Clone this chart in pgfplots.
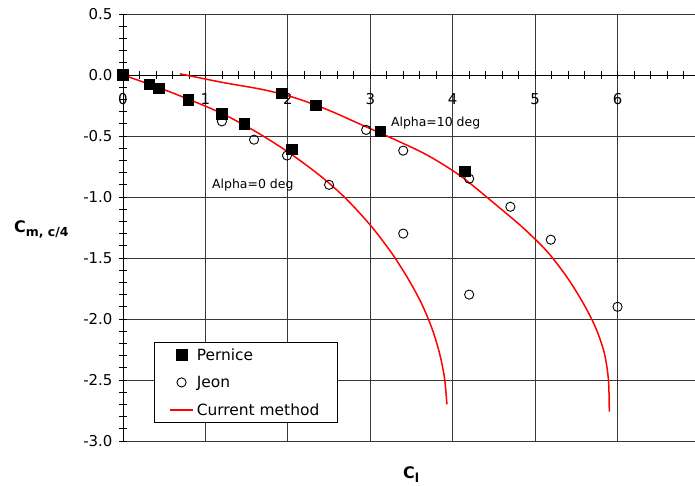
\documentclass[border=0pt]{standalone}
\usepackage{pgfplots}
\pgfplotsset{compat=1.18}
\usepackage{fontspec}
\setmainfont{DejaVu Sans}
\begin{document}
\begin{tikzpicture}
\begin{axis}[
  name=ax, at={(0,0)}, anchor=south west,
  scale only axis, width=572bp, height=427bp,
  xmin=0, xmax=6.94, ymin=-3, ymax=0.5,
  clip=false,
  axis x line*=middle, axis y line*=left,
  axis line style={black, line width=0.9bp},
  hide obscured x ticks=false, hide obscured y ticks=false,
  xtick={0,1,2,3,4,5,6}, xticklabels={0,1,2,3,4,5,6},
  minor xtick={0.2,0.4,0.6,0.8,1.2,1.4,1.6,1.8,2.2,2.4,2.6,2.8,3.2,3.4,3.6,3.8,4.2,4.4,4.6,4.8,5.2,5.4,5.6,5.8,6.2,6.4,6.6,6.8},
  ytick={-2.5,-2,-1.5,-1,-0.5,0}, yticklabels={-2.5,-2.0,-1.5,-1.0,-0.5,0.0},
  minor ytick={-2.9,-2.8,-2.7,-2.6,-2.4,-2.3,-2.2,-2.1,-1.9,-1.8,-1.7,-1.6,-1.4,-1.3,-1.2,-1.1,-0.9,-0.8,-0.7,-0.6,-0.4,-0.3,-0.2,-0.1,0.1,0.2,0.3,0.4},
  extra y ticks={-3,0.5}, extra y tick labels={-3.0,0.5},
  extra y tick style={grid style={black!50, line width=0.8bp}},
  grid=major, major grid style={black!78, line width=0.7bp},
  tick align=center, major tick length=8bp, minor tick length=8bp,
  every tick/.style={black, line width=0.8bp},
  ticklabel style={font=\fontsize{15}{18}\selectfont},
  xticklabel style={yshift=-11bp},
  yticklabel style={xshift=-3bp},
  /pgf/number format/assume math mode=true,
  legend style={at={(rel axis cs:0.054,0.232)}, anchor=north west, draw=black, line width=0.8bp,
    fill=white, font=\fontsize{15.5}{18}\selectfont, inner xsep=15bp, inner ysep=4bp, row sep=10.5bp,
    nodes={inner xsep=3bp}},
  legend cell align=left,
  legend image code/.code={\draw[mark repeat=2,mark phase=2,#1] plot coordinates {(0bp,0bp) (11.5bp,0bp) (23bp,0bp)};},
]
% Pernice
\addplot[only marks, mark=square*, mark size=5.3bp, mark options={fill=black, draw=black, line width=0.6bp}]
coordinates {(0,0) (0.32,-0.077) (0.437,-0.11) (0.79,-0.205) (1.2,-0.32) (1.47,-0.40) (2.05,-0.61) (1.93,-0.15) (2.34,-0.25) (3.12,-0.46) (4.15,-0.79)};
\addlegendentry{Pernice}
% Jeon
\addplot[only marks, mark=o, mark size=4.6bp, mark options={draw=black, line width=0.9bp, fill=white}]
coordinates {(1.2,-0.38) (1.59,-0.53) (1.99,-0.66) (2.5,-0.90) (2.95,-0.45) (3.4,-0.62) (4.2,-0.85) (3.4,-1.30) (4.2,-1.80) (4.7,-1.08) (5.19,-1.35) (6.0,-1.90)};
\addlegendentry{Jeon}
% Current method, alpha = 0
\addplot[red, line width=1.5bp, smooth, mark=none]
coordinates {(0,0) (0.4,-0.095) (0.8,-0.2) (1.2,-0.315) (1.6,-0.46) (2.0,-0.63) (2.4,-0.83) (2.7,-1.01) (3.0,-1.23) (3.25,-1.45) (3.45,-1.66) (3.62,-1.87) (3.75,-2.08) (3.84,-2.28) (3.9,-2.48) (3.93,-2.70)};
\addlegendentry{Current method}
% Current method, alpha = 10
\addplot[red, line width=1.5bp, smooth, mark=none, forget plot]
coordinates {(0.69,0.01) (1.2,-0.06) (1.7,-0.12) (2.1,-0.19) (2.5,-0.29) (2.9,-0.41) (3.3,-0.53) (3.7,-0.66) (4.1,-0.83) (4.5,-1.05) (4.85,-1.25) (5.15,-1.45) (5.4,-1.67) (5.6,-1.89) (5.74,-2.08) (5.84,-2.28) (5.89,-2.5) (5.9,-2.76)};
\node[anchor=west, inner sep=0pt, font=\fontsize{12.5}{14}\selectfont] at (axis cs:1.08,-0.90) {Alpha=0 deg};
\node[anchor=west, inner sep=0pt, font=\fontsize{12.5}{14}\selectfont] at (axis cs:3.25,-0.39) {Alpha=10 deg};
\node[anchor=base west, inner sep=0pt, font=\bfseries\fontsize{16}{18}\selectfont] at (rel axis cs:-0.1906,0.488) {C\raisebox{-4bp}{\fontsize{12.5}{14}\selectfont m, c/4}};
\node[anchor=base west, inner sep=0pt, font=\bfseries\fontsize{16}{18}\selectfont] at (rel axis cs:0.4895,-0.0867) {C\raisebox{-4bp}{\fontsize{12.5}{14}\selectfont l}};
\end{axis}
\pgfresetboundingbox
\path[use as bounding box] (-123bp,-45bp) rectangle (572bp,441bp);
\end{tikzpicture}
\end{document}
